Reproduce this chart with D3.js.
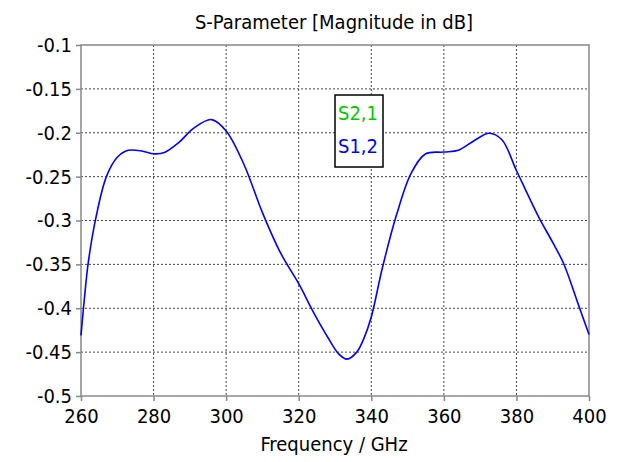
<!DOCTYPE html>
<html>
<head>
<meta charset="utf-8">
<script src="https://cdn.jsdelivr.net/npm/d3@7"></script>
<style>
  html, body { margin: 0; padding: 0; background: #fff; }
  svg { display: block; }
  text { font-family: "DejaVu Sans Condensed", "DejaVu Sans", sans-serif; font-stretch: condensed; }
</style>
</head>
<body>
<script>
// S-parameter magnitude sweep (dB) versus frequency (GHz)
const freqGHz = [260, 261, 262, 264, 267, 270, 273, 277, 280, 283, 287, 291, 296, 300, 305, 310, 315, 320, 324, 328, 331, 333.3, 336, 338, 340, 343, 347, 351, 355, 360, 364, 368, 372.5, 376, 380, 386, 390, 393, 397, 400];
const s12dB = [-0.431, -0.386, -0.348, -0.299, -0.250, -0.228, -0.220, -0.221, -0.224, -0.2225, -0.211, -0.195, -0.185, -0.198, -0.237, -0.291, -0.337, -0.372, -0.404, -0.433, -0.452, -0.458, -0.450, -0.434, -0.410, -0.355, -0.293, -0.246, -0.224, -0.222, -0.220, -0.210, -0.2005, -0.208, -0.243, -0.295, -0.325, -0.349, -0.395, -0.430];
const xTicks = [260, 280, 300, 320, 340, 360, 380, 400];
const yTicks = [-0.1, -0.15, -0.2, -0.25, -0.3, -0.35, -0.4, -0.45, -0.5];
const legendLabels = ["S2,1", "S1,2"];
const legendColors = ["#00c800", "#0000ff"];
const titleText = "S-Parameter [Magnitude in dB]";
const xLabelText = "Frequency / GHz";

const W = 625, H = 462;
const plotL = 81, plotR = 589, plotT = 45, plotB = 396;

const svg = d3.select("body").append("svg").attr("width", W).attr("height", H);

const x = d3.scaleLinear().domain([260, 400]).range([plotL, plotR]);
const y = d3.scaleLinear().domain([-0.5, -0.1]).range([plotB, plotT]);

// dotted grid
const grid = svg.append("g");
grid.selectAll("line.v").data(xTicks.slice(1, -1)).join("line")
  .attr("x1", d => x(d)).attr("x2", d => x(d))
  .attr("y1", plotT).attr("y2", plotB)
  .attr("stroke", "#444").attr("stroke-width", 1).attr("stroke-dasharray", "2,2");
grid.selectAll("line.h").data(yTicks.slice(1, -1)).join("line")
  .attr("x1", plotL).attr("x2", plotR)
  .attr("y1", d => y(d)).attr("y2", d => y(d))
  .attr("stroke", "#444").attr("stroke-width", 1).attr("stroke-dasharray", "2,2");

// frame
svg.append("rect").attr("x", plotL).attr("y", plotT)
  .attr("width", plotR - plotL).attr("height", plotB - plotT)
  .attr("fill", "none").attr("stroke", "#888").attr("stroke-width", 1.5);

// axes
const yAxis = d3.axisLeft(y).tickValues(yTicks).tickFormat(d => String(d)).tickSize(5).tickPadding(4);
const gy = svg.append("g").attr("transform", `translate(${plotL},0)`).call(yAxis);
const xAxis = d3.axisBottom(x).tickValues(xTicks).tickFormat(d => String(d)).tickSize(5).tickPadding(8);
const gx = svg.append("g").attr("transform", `translate(0,${plotB})`).call(xAxis);
[gx, gy].forEach(g => {
  g.select(".domain").remove();
  g.selectAll(".tick line").attr("stroke", "#888").attr("stroke-width", 1.5);
  g.selectAll(".tick text").attr("font-size", 20).attr("fill", "#000")
    .style("font-family", '"DejaVu Sans Condensed", "DejaVu Sans", sans-serif');
});

// curve
const line = d3.line().x((d, i) => x(freqGHz[i])).y(d => y(d)).curve(d3.curveCatmullRom.alpha(0.5));
svg.append("path").datum(s12dB).attr("d", line)
  .attr("fill", "none").attr("stroke", "#0000ff").attr("stroke-width", 1.6);

// titles
svg.append("text").attr("x", 334).attr("y", 29)
  .attr("text-anchor", "middle").attr("font-size", 20).attr("fill", "#000").text(titleText);
svg.append("text").attr("x", 334).attr("y", 451)
  .attr("text-anchor", "middle").attr("font-size", 20).attr("fill", "#000").text(xLabelText);

// legend
const lg = svg.append("g");
lg.append("rect").attr("x", 335).attr("y", 95).attr("width", 48).attr("height", 72)
  .attr("fill", "#fff").attr("stroke", "#000").attr("stroke-width", 1.5);
lg.selectAll("text").data(legendLabels).join("text")
  .attr("x", 338).attr("y", (d, i) => 120 + i * 33)
  .attr("font-size", 20).attr("fill", (d, i) => legendColors[i]).text(d => d);
</script>
</body>
</html>
